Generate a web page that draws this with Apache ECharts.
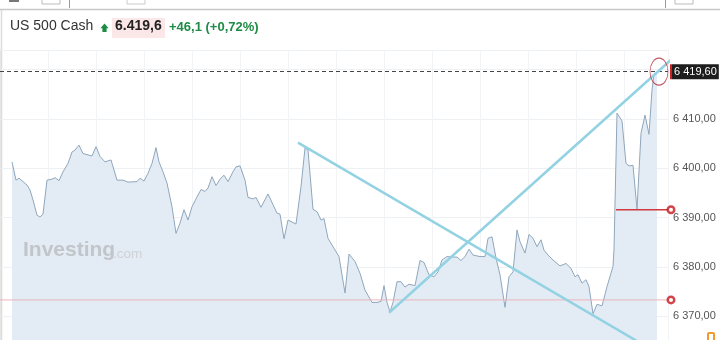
<!DOCTYPE html>
<html>
<head>
<meta charset="utf-8">
<script src="https://cdn.jsdelivr.net/npm/echarts@6/dist/echarts.min.js"></script>
<style>
html,body{margin:0;padding:0;background:#fff;}
#c{width:720px;height:340px;}
</style>
</head>
<body>
<div id="c"></div>
<script>
// ---- data (time step, price) ----
const times = [12,16,19,23,27,30,33,37,40,43,47,52,55,59,63,68,72,75,79,83,92,96,100,105,111,117,123,128,137,140,144,148,152,156,159,163,167,172,176,180,184,188,192,197,201,205,208,212,216,220,224,228,233,236,240,245,248,253,256,261,268,277,280,284,288,296,301,305,308,313,317,321,324,328,333,339,345,349,355,360,365,372,377,381,384,387,390,393,397,401,405,409,415,420,424,429,434,438,442,447,452,457,461,465,469,473,480,485,488,492,496,500,505,509,513,517,520,525,529,533,537,541,544,548,553,560,566,571,575,578,582,586,589,593,597,602,607,613,614,617,622,626,629,633,637,641,645,649,652,654,657];
const prices = [6401.3,6397.6,6398.0,6397.3,6396.6,6395.6,6393.6,6390.5,6390.1,6390.7,6397.6,6397.8,6398.1,6397.5,6399.3,6401.0,6403.3,6403.7,6404.7,6403.0,6402.5,6404.4,6402.4,6401.3,6401.7,6397.6,6397.6,6397.2,6397.3,6398.0,6397.4,6399.0,6401.0,6404.2,6401.3,6399.3,6397.0,6392.2,6386.8,6388.9,6391.6,6389.5,6392.2,6394.2,6395.7,6395.3,6396.0,6398.3,6396.5,6397.8,6398.6,6397.3,6399.3,6400.3,6400.5,6397.6,6394.1,6393.8,6394.1,6392.1,6394.8,6390.9,6390.7,6385.7,6389.5,6388.7,6396.3,6404.1,6403.7,6391.7,6391.2,6389.5,6389.8,6385.8,6384.1,6382.1,6374.7,6382.6,6381.1,6378.7,6375.3,6372.8,6372.8,6373.0,6376.2,6372.8,6370.9,6372.8,6377.0,6377.0,6375.9,6376.5,6376.2,6381.3,6380.9,6378.4,6378.0,6379.0,6381.4,6382.1,6382.0,6382.0,6381.3,6382.1,6383.6,6382.4,6382.1,6382.1,6385.8,6386.1,6381.8,6378.4,6371.8,6378.0,6379.0,6387.5,6385.1,6382.8,6386.6,6385.8,6384.1,6385.5,6383.4,6382.4,6381.4,6380.2,6380.7,6379.7,6378.0,6378.4,6376.7,6377.4,6376.0,6370.5,6372.4,6372.1,6376.0,6380.1,6383.6,6411.2,6409.6,6401.0,6400.5,6400.6,6391.7,6407.1,6410.8,6406.9,6415.9,6419.0,6419.6];
const lastPrice = 6419.6;
const trendDown = [[298, 6405.2], [640, 6364.6]];
const trendUp = [[389, 6370.7], [671, 6422.0]];
const redLevelStrong = [[616, 6391.6], [668, 6391.6]];
const redLevelFaint = [[0, 6373.3], [668, 6373.3]];
const redDots = [[671, 6391.6], [671, 6373.3]];
const priceCircle = [[659, 6419.6]];
const yTicks = {min: 6360, max: 6424, step: 10};
const xRange = {min: 0, max: 668, step: 48};

function fmt(v, dec) {
  const neg = v < 0; v = Math.abs(v);
  let s = v.toFixed(dec);
  let [ip, fp] = s.split('.');
  ip = ip.replace(/\B(?=(\d{3})+(?!\d))/g, ' ');
  return (neg ? '-' : '') + ip + (fp ? ',' + fp : '');
}

const mainData = times.map((t, i) => [t, prices[i]]);
const chart = echarts.init(document.getElementById('c'), null, {renderer: 'canvas'});
const FONT = 'Liberation Sans, Arial, sans-serif';

chart.setOption({
  animation: false,
  textStyle: {fontFamily: FONT},
  grid: {left: 0, width: 668, top: 50, height: 315.5, containLabel: false, outerBoundsMode: 'none'},
  xAxis: {
    type: 'value', min: xRange.min, max: xRange.max, interval: xRange.step,
    axisLine: {show: false}, axisTick: {show: false}, axisLabel: {show: false},
    splitLine: {show: true, lineStyle: {color: '#f2f3f5', width: 1}}
  },
  yAxis: {
    type: 'value', position: 'right', min: yTicks.min, max: yTicks.max, interval: yTicks.step,
    axisLine: {show: true, lineStyle: {color: '#e6e6e6'}},
    axisTick: {show: false},
    axisLabel: {
      margin: 5, color: '#555', fontSize: 11, fontFamily: FONT, showMaxLabel: false,
      formatter: v => (v > 6415 || v < 6365) ? '' : fmt(v, 2)
    },
    splitLine: {show: true, lineStyle: {color: '#eef1f4', width: 1}}
  },
  series: [
    {
      type: 'line', data: mainData, symbol: 'none', z: 2,
      lineStyle: {color: '#8fa6bc', width: 1},
      areaStyle: {color: '#e3ecf5', opacity: 1},
      markLine: {
        silent: true, symbol: 'none', z: 3,
        lineStyle: {type: [4, 3], color: '#444', width: 1},
        label: {
          position: 'end', distance: 2,
          formatter: () => '{r|}{t|' + fmt(lastPrice, 2) + '}',
          rich: {
            r: {width: 2, height: 15, backgroundColor: '#cc2222'},
            t: {backgroundColor: '#1e1e1e', color: '#fff', fontSize: 11, fontFamily: FONT, padding: [2, 2, 2, 2], lineHeight: 13}
          }
        },
        data: [{yAxis: lastPrice}]
      }
    },
    {type: 'line', data: redLevelFaint, symbol: 'none', z: 3, silent: true,
      lineStyle: {color: '#ebb4b8', width: 1}},
    {type: 'line', data: redLevelStrong, symbol: 'none', z: 3, silent: true,
      lineStyle: {color: '#d0393f', width: 1.5}},
    {type: 'line', data: trendDown, symbol: 'none', z: 4, clip: false, silent: true,
      lineStyle: {color: '#93d2e2', width: 2.5}},
    {type: 'line', data: trendUp, symbol: 'none', z: 4, clip: false, silent: true,
      lineStyle: {color: '#93d2e2', width: 2.5}},
    {type: 'scatter', data: redDots, symbol: 'circle', symbolSize: 6.5, z: 5, clip: false, silent: true,
      itemStyle: {color: '#fff', borderColor: '#c4161c', borderWidth: 2.5}},
    {type: 'scatter', data: priceCircle, symbol: 'circle', symbolSize: [18, 27], z: 5, clip: false, silent: true,
      itemStyle: {color: 'rgba(0,0,0,0)', borderColor: '#b3283a', borderWidth: 1}}
  ],
  graphic: [
    // toolbar remnants
    {type: 'line', shape: {x1: 0, y1: 9.5, x2: 720, y2: 9.5}, style: {stroke: '#c8c8c8', lineWidth: 1.5}, silent: true},
    {type: 'rect', shape: {x: 42, y: -3, width: 18, height: 7}, style: {fill: '#fff', stroke: '#bbb', lineWidth: 1}, silent: true},
    {type: 'rect', shape: {x: 127, y: -3, width: 18, height: 7}, style: {fill: '#fff', stroke: '#ccc', lineWidth: 1}, silent: true},
    {type: 'rect', shape: {x: 675, y: -3, width: 18, height: 7}, style: {fill: '#fff', stroke: '#bbb', lineWidth: 1}, silent: true},
    {type: 'line', shape: {x1: 69.5, y1: 0, x2: 69.5, y2: 8}, style: {stroke: '#999', lineWidth: 1}, silent: true},
    {type: 'line', shape: {x1: 665.5, y1: 0, x2: 665.5, y2: 8}, style: {stroke: '#999', lineWidth: 1}, silent: true},
    {type: 'rect', shape: {x: 9, y: 0, width: 10, height: 2}, style: {fill: '#777'}, silent: true},
    // left border
    {type: 'line', shape: {x1: 1.5, y1: 10, x2: 1.5, y2: 340}, style: {stroke: '#dcdcdc', lineWidth: 1.5}, silent: true},
    // title
    {type: 'text', left: 10, top: 19, style: {text: 'US 500 Cash', fill: '#333', font: '14px ' + FONT}, silent: true},
    {type: 'polygon', shape: {points: [[104.5, 23.5], [108.6, 28.2], [106.6, 28.2], [106.6, 32], [102.4, 32], [102.4, 28.2], [100.4, 28.2]]}, style: {fill: '#1e8c45'}, silent: true},
    {type: 'rect', shape: {x: 112, y: 18, width: 53, height: 20}, style: {fill: '#fbe7e7'}, silent: true},
    {type: 'text', left: 115, top: 19.5, style: {text: '6.419,6', fill: '#222', font: 'bold 14px ' + FONT}, silent: true},
    {type: 'text', left: 169, top: 20.5, style: {text: '+46,1 (+0,72%)', fill: '#1e8c45', font: 'bold 13px ' + FONT}, silent: true},
    // watermark (drawn above the area fill)
    {type: 'text', left: 23, top: 240, z: 100, style: {text: 'Investing', fill: '#c2c5c9', font: 'bold 21px ' + FONT}, silent: true},
    {type: 'text', left: 113, top: 247, z: 100, style: {text: '.com', fill: '#cfd2d6', font: '13.5px ' + FONT}, silent: true},
    // small orange marker bottom right
    {type: 'rect', shape: {x: 708, y: 333, width: 6, height: 8, r: 1}, style: {fill: '#fff', stroke: '#f29a2e', lineWidth: 2}, silent: true}
  ]
});
</script>
</body>
</html>
